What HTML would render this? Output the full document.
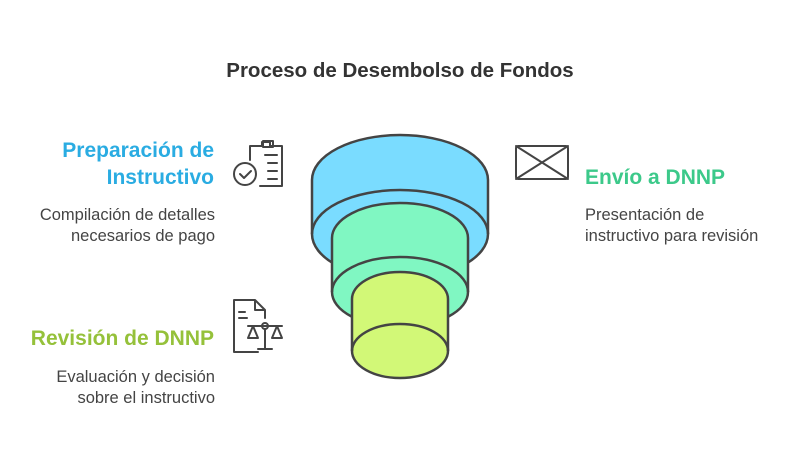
<!DOCTYPE html>
<html><head><meta charset="utf-8"><style>
body{margin:0;width:800px;height:462px;background:#fff;overflow:hidden;font-family:"Liberation Sans",sans-serif;}
</style></head><body>
<svg width="800" height="462" viewBox="0 0 800 462" xmlns="http://www.w3.org/2000/svg" font-family="Liberation Sans, sans-serif">
<text x="400" y="77" text-anchor="middle" font-size="20.5" font-weight="bold" fill="#333">Proceso de Desembolso de Fondos</text>

<g stroke="#444" stroke-width="2.5" stroke-linejoin="round">
<path d="M312 180 A88 45 0 0 1 488 180 L488 234 A88 45 0 0 1 312 234 Z" fill="#7ADCFF"/>
<path d="M312 234 A88 44 0 0 1 488 234" fill="none"/>
<path d="M332 238 A68 35 0 0 1 468 238 L468 292 A68 35 0 0 1 332 292 Z" fill="#80F7C2"/>
<path d="M332 292 A68 35 0 0 1 468 292" fill="none"/>
<path d="M352 299 A48 27 0 0 1 448 299 L448 351 A48 27 0 0 1 352 351 Z" fill="#D2F877"/>
<path d="M352 351 A48 27 0 0 1 448 351" fill="none"/>
</g>

<g font-size="21" font-weight="bold">
<text x="214" y="157" text-anchor="end" fill="#2AACE2">Preparación de</text>
<text x="214" y="184" text-anchor="end" fill="#2AACE2">Instructivo</text>
<text x="585" y="184" fill="#3CC98A">Envío a DNNP</text>
<text x="214" y="345" text-anchor="end" fill="#95C13A">Revisión de DNNP</text>
</g>
<g font-size="16.5" fill="#444">
<text x="215" y="220" text-anchor="end">Compilación de detalles</text>
<text x="215" y="241" text-anchor="end">necesarios de pago</text>
<text x="585" y="220">Presentación de</text>
<text x="585" y="241">instructivo para revisión</text>
<text x="215" y="382" text-anchor="end">Evaluación y decisión</text>
<text x="215" y="403" text-anchor="end">sobre el instructivo</text>
</g>

<g stroke="#444" stroke-width="2" fill="none" stroke-linecap="round" stroke-linejoin="round">
<path d="M258 146 h-8 v14 M258 146 h4 v-4 h8 v4 h12 v40 h-22"/>
<rect x="263" y="141" width="10" height="6"/>
<path d="M265 155 h12 M268 163 h9 M268 171 h9 M268 179 h9"/>
<circle cx="245" cy="174" r="11"/>
<path d="M240 174 l4 4 l7 -7"/>
<rect x="516" y="146" width="52" height="33" rx="2"/>
<path d="M516 146 L568 179 M568 146 L516 179"/>
<path d="M258 352 h-24 v-52 h21 l10 10 v8 M255 300 v10 h10"/>
<path d="M239 312 h6 M239 318 h8"/>
<circle cx="265" cy="326" r="3"/>
<path d="M265 329 v20 M258 349 h14 M248 326 h34"/>
<path d="M253 326 l-5 12 h10 z M277 326 l-5 12 h10 z"/>
</g>
</svg>
</body></html>
